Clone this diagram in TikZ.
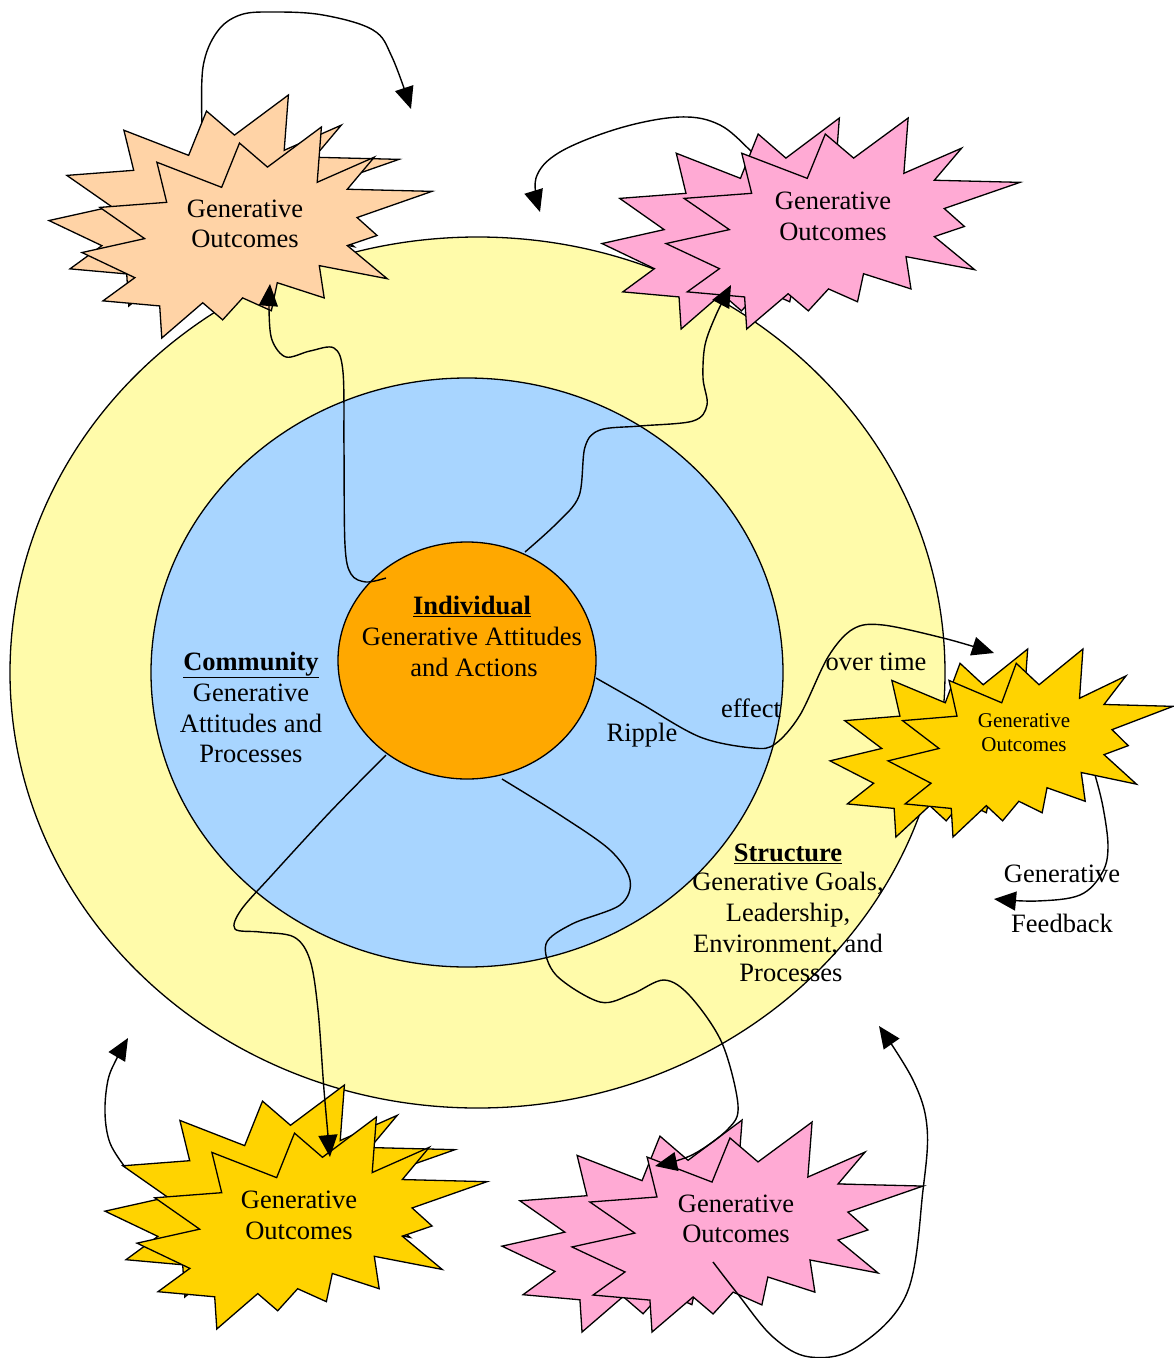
\documentclass[tikz,border=0pt]{standalone}
\usepackage{fontspec}
\setmainfont{Liberation Serif}
\usetikzlibrary{arrows.meta}
\definecolor{ylw}{HTML}{FFFBAA}
\definecolor{blu}{HTML}{A8D5FF}
\definecolor{org}{HTML}{FFA800}
\definecolor{pch}{HTML}{FFD3A6}
\definecolor{pnk}{HTML}{FFAAD4}
\definecolor{gld}{HTML}{FFD300}
\tikzset{
  ring/.style={draw=black, line width=1.3pt},
  starline/.style={draw=black, line width=1.3pt, line join=miter},
  conn/.style={draw=black, line width=1.4pt, -{Triangle[length=22pt,width=19pt]}},
  big/.style={font=\fontsize{26.5pt}{30.5pt}\selectfont, inner sep=0pt, anchor=base},
  small/.style={font=\fontsize{21pt}{24pt}\selectfont, inner sep=0pt, anchor=base},
}
\newcommand\mystar[5]{%
  \filldraw[fill=#5, starline, shift={(#1,#2)}, xscale=#3, yscale=#4]
   (0.684,0) -- (0.672,0.262) -- (0.835,0.143) -- (0.758,0.295) -- (1,0.305) --
   (0.786,0.429) -- (0.843,0.514) -- (0.758,0.562) -- (0.872,0.719) -- (0.678,0.657) --
   (0.692,0.810) -- (0.558,0.738) -- (0.541,0.871) -- (0.459,0.810) -- (0.402,0.914) --
   (0.345,0.833) -- (0.228,1) -- (0.222,0.848) -- (0.060,0.824) -- (0.151,0.714) --
   (0,0.595) -- (0.179,0.529) -- (0.051,0.381) -- (0.242,0.357) -- (0.214,0.167) --
   (0.399,0.286) -- (0.450,0.076) -- (0.530,0.190) -- cycle;}
\begin{document}
\begin{tikzpicture}[x=1pt, y=-1pt]
\path[use as bounding box, fill=white] (0,0) rectangle (1174,1358);

% rings
\filldraw[fill=ylw, ring] (477.5,672.5) ellipse [x radius=467.5, y radius=435.5];
\filldraw[fill=blu, ring] (467,672.5) ellipse [x radius=316, y radius=294.5];
\filldraw[fill=org, ring] (467,660.5) ellipse [x radius=129, y radius=118.5];

% named ends
\coordinate (indA) at (386,578);
\coordinate (indB) at (525,552);
\coordinate (indC) at (596,678);
\coordinate (indD) at (386,755);
\coordinate (indE) at (502,779);
\coordinate (tlIn) at (270,284);
\coordinate (trIn) at (731,285);
\coordinate (rtIn) at (994,653);
\coordinate (blIn) at (330,1157);
\coordinate (brIn) at (655,1166);
\coordinate (tlOut) at (202,125);
\coordinate (tlFb) at (411,109);
\coordinate (trOut) at (765,165);
\coordinate (trFb) at (540,212);
\coordinate (rtOut) at (1095,775);
\coordinate (rtFb) at (994,899);
\coordinate (blOut) at (125,1167);
\coordinate (blFb) at (128,1038);
\coordinate (brOut) at (713,1262);
\coordinate (brFb) at (879,1026);

% loops hidden behind stars
\draw[conn] plot[smooth, tension=0.6] coordinates {(tlOut) (203,67) (217,32) (240,15) (273,12) (323,15) (373,30) (392,57) (tlFb)};
\draw[conn] plot[smooth, tension=0.6] coordinates {(trOut) (753,153) (720,125) (680,117) (620,128) (560,152) (536,178) (trFb)};

% star clusters
\mystar{49}{95}{350}{211}{pch}
\mystar{82}{127}{350}{211}{pch}
\mystar{602}{118}{347}{211}{pnk}
\mystar{666}{118}{354}{211}{pnk}
\mystar{830}{649}{289}{188}{gld}
\mystar{888}{649}{285}{188}{gld}
\mystar{105}{1085}{350}{212}{gld}
\mystar{137}{1117}{350}{212}{gld}
\mystar{502}{1120}{351}{212}{pnk}
\mystar{572}{1122}{351}{210}{pnk}

% star texts
\node[big] (tl1) at (245,217) {Generative};
\node[big] (tl2) at (245,247) {Outcomes};
\node[big] (tr1) at (833,209) {Generative};
\node[big] (tr2) at (833,240) {Outcomes};
\node[small] (rt1) at (1024,727) {Generative};
\node[small] (rt2) at (1024,751) {Outcomes};
\node[big] (bl1) at (299,1208) {Generative};
\node[big] (bl2) at (299,1239) {Outcomes};
\node[big] (br1) at (736,1212) {Generative};
\node[big] (br2) at (736,1242) {Outcomes};

% ring texts
\node[big] (i1) at (472,614) {\underline{\textbf{Individual}}};
\node[big] (i2) at (472,645) {Generative Attitudes};
\node[big] (i3) at (474,676) {and Actions};
\node[big] (c1) at (251,670) {\underline{\textbf{Community}}};
\node[big] (c2) at (251,701) {Generative};
\node[big] (c3) at (251,732) {Attitudes and};
\node[big] (c4) at (251,762) {Processes};
\node[big] (s1) at (788,861) {\underline{\textbf{Structure}}};
\node[big] (s2) at (788,890) {Generative Goals,};
\node[big] (s3) at (788,921) {Leadership,};
\node[big] (s4) at (788,952) {Environment, and};
\node[big] (s5) at (791,981) {Processes};
\node[big] (rp1) at (642,741) {Ripple};
\node[big] (rp2) at (751,717) {effect};
\node[big] (rp3) at (876,670) {over time};
\node[big] (gf1) at (1062,882) {Generative};
\node[big] (gf2) at (1062,932) {Feedback};

% loops on top
\draw[conn] plot[smooth, tension=0.6] coordinates {(rtOut) (1103,807) (1108,847) (1102,873) (1080,895) (1037,901) (rtFb)};
\draw[conn] plot[smooth, tension=0.6] coordinates {(blOut) (110,1143) (105,1113) (108,1080) (117,1058) (blFb)};
\draw[conn] plot[smooth, tension=0.6] coordinates {(brOut) (737,1293) (773,1337) (810,1357) (857,1347) (907,1293) (923,1190) (927,1127) (913,1080) (brFb)};

% connectors from the individual
\draw[conn] plot[smooth, tension=0.55] coordinates {(indA) (366,582) (351,574) (345,545) (344,450) (343,372) (334,348) (310,351) (286,357) (272,340) (269,310) (tlIn)};
\draw[conn] plot[smooth, tension=0.55] coordinates {(indB) (556,524) (579,496) (585,447) (600,430) (640,426) (693,421) (707,405) (703,378) (705,345) (716,315) (trIn)};
\draw[conn] plot[smooth, tension=0.55] coordinates {(indC) (640,703) (700,737) (753,748) (775,744) (800,715) (828,657) (853,629) (883,625) (947,639) (rtIn)};
\draw[conn] plot[smooth, tension=0.55] coordinates {(indD) (330,812) (272,875) (241,910) (235,929) (260,932) (294,937) (310,960) (318,1010) (324,1090) (blIn)};
\draw[conn] plot[smooth, tension=0.55] coordinates {(indE) (560,815) (610,850) (630,880) (620,905) (572,924) (546,944) (556,975) (600,1002) (632,994) (664,980) (690,996) (722,1043) (738,1105) (728,1129) (692,1155) (brIn)};
\end{tikzpicture}
\end{document}
